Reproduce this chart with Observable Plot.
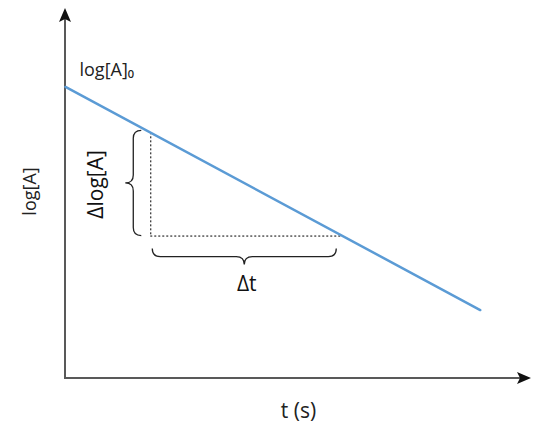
<!DOCTYPE html>
<html>
<head>
<meta charset="utf-8">
<script src="https://cdn.jsdelivr.net/npm/d3@7"></script>
<script src="https://cdn.jsdelivr.net/npm/@observablehq/plot@0.6"></script>
<style>
  html, body { margin: 0; padding: 0; background: #fff; }
  #chart svg { display: block; }
</style>
</head>
<body>
<div id="chart"></div>
<script>
// First-order decay: log[A] falls linearly with time t
const lineT = [0, 89];
const lineLogA = [78.8, 18.5];

// Slope triangle: two points on the line
const triT = [18.3, 59.5];
const triLogA = [66.4, 38.5];

// Axis extents (arbitrary units)
const tDomain = [0, 100];
const logADomain = [0, 100];

const labelFont = "'Open Sans', 'Noto Sans', sans-serif";

const lineData = lineT.map((t, i) => ({t, v: lineLogA[i]}));

// Axes with filled arrowheads, and curly braces, drawn through the scales
function axesAndBraces(index, scales, values, dims) {
  const x = scales.x, y = scales.y;
  const g = d3.create("svg:g");
  const axisColor = "#595959";
  const x0 = x(tDomain[0]), x1 = x(tDomain[1]);
  const y0 = y(logADomain[0]), y1 = y(logADomain[1]);
  // axis lines
  g.append("line").attr("x1", x0).attr("y1", y0).attr("x2", x0).attr("y2", y1 + 6)
    .attr("stroke", axisColor).attr("stroke-width", 2);
  g.append("line").attr("x1", x0 - 1).attr("y1", y0).attr("x2", x1 - 6).attr("y2", y0)
    .attr("stroke", axisColor).attr("stroke-width", 2);
  // arrowheads
  g.append("path")
    .attr("d", `M${x0},${y1} L${x0 + 6},${y1 + 14} L${x0},${y1 + 11} L${x0 - 6},${y1 + 14} Z`)
    .attr("fill", "#111");
  g.append("path")
    .attr("d", `M${x1},${y0} L${x1 - 14},${y0 - 6} L${x1 - 11},${y0} L${x1 - 14},${y0 + 6} Z`)
    .attr("fill", "#111");

  // vertical brace to the left of the triangle
  const bx = x(triT[0]) - 17; // brace spine
  const ya = y(triLogA[0]) - 2, yb = y(triLogA[1]);
  const ym = (ya + yb) / 2;
  const r = 8;
  const vb = `M${bx + r},${ya} Q${bx},${ya} ${bx},${ya + r} L${bx},${ym - r} Q${bx},${ym} ${bx - r},${ym}` +
             ` Q${bx},${ym} ${bx},${ym + r} L${bx},${yb - r} Q${bx},${yb} ${bx + r},${yb}`;
  g.append("path").attr("d", vb).attr("fill", "none").attr("stroke", "#222").attr("stroke-width", 1.3);

  // horizontal brace under the triangle
  const by = y(triLogA[1]) + 21;
  const xa = x(triT[0]) + 2, xb = x(triT[1]) - 6;
  const xm = (xa + xb) / 2;
  const hb = `M${xa},${by - r} Q${xa},${by} ${xa + r},${by} L${xm - r},${by} Q${xm},${by} ${xm},${by + r}` +
             ` Q${xm},${by} ${xm + r},${by} L${xb - r},${by} Q${xb},${by} ${xb},${by - r}`;
  g.append("path").attr("d", hb).attr("fill", "none").attr("stroke", "#222").attr("stroke-width", 1.3);
  return g.node();
}

const chart = Plot.plot({
  width: 534,
  height: 433,
  marginLeft: 65,
  marginRight: 3,
  marginTop: 8,
  marginBottom: 55,
  x: {domain: tDomain, axis: null},
  y: {domain: logADomain, axis: null},
  style: {fontFamily: labelFont, background: "#fff"},
  marks: [
    axesAndBraces,
    // dashed slope triangle
    Plot.ruleX([triT[0]], {y1: triLogA[0], y2: triLogA[1], stroke: "#000", strokeWidth: 1, strokeDasharray: "2,2"}),
    Plot.ruleY([triLogA[1]], {x1: triT[0], x2: triT[1], stroke: "#000", strokeWidth: 1, strokeDasharray: "2,2"}),
    // the straight line
    Plot.line(lineData, {x: "t", y: "v", stroke: "#5B9BD5", strokeWidth: 2.5}),
    // labels
    Plot.text(["log[A]₀"], {x: lineT[0], y: lineLogA[0], dx: 14, dy: -17, text: d => d, textAnchor: "start",
      fontSize: 18, fill: "#222"}),
    Plot.text(["Δlog[A]"], {x: triT[0], y: (triLogA[0] + triLogA[1]) / 2, dx: -55, text: d => d,
      rotate: -90, fontSize: 21, fill: "#111"}),
    Plot.text(["Δt"], {x: (triT[0] + triT[1]) / 2, y: triLogA[1], dy: 48, text: d => d,
      fontSize: 21, fill: "#111"}),
    Plot.text(["log[A]"], {x: tDomain[0], y: (logADomain[0] + logADomain[1]) / 2, dx: -35, dy: -2, text: d => d,
      rotate: -90, fontSize: 18, fill: "#222"}),
    Plot.text(["t (s)"], {x: (tDomain[0] + tDomain[1]) / 2, y: logADomain[0], dy: 33, text: d => d,
      fontSize: 21, fill: "#222"})
  ]
});
document.getElementById("chart").append(chart);
</script>
</body>
</html>
